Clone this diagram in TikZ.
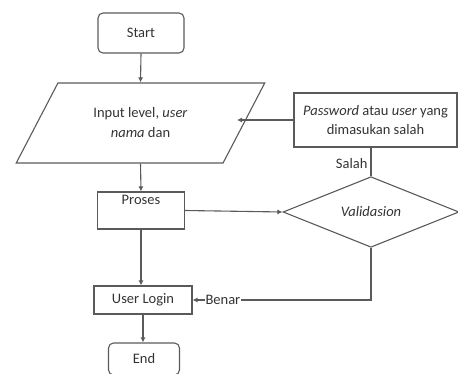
\documentclass[tikz,border=0pt]{standalone}
\usepackage{fontspec}
\setmainfont{Carlito}
\usetikzlibrary{shapes.geometric,arrows.meta,calc}
\definecolor{ln}{HTML}{5A5A5A}
\definecolor{tx}{HTML}{333333}
\begin{document}
\begin{tikzpicture}[x=1pt,y=-1pt,
  every node/.style={font=\fontsize{14.5}{17}\selectfont, text=tx},
  box/.style={draw=ln, line width=1.1pt, rectangle, inner sep=0pt, align=center},
  term/.style={box, rounded corners=5pt},
  arr/.style={draw=ln, line width=1.1pt, -{Latex[length=5pt,width=5pt]}},
  ln/.style={draw=ln, line width=1.1pt}]
\useasboundingbox (0,0) rectangle (458,374);
\node[term, minimum width=86pt, minimum height=40pt] (start) at (141,33) {Start};
\node[draw=ln, line width=1.1pt, trapezium, trapezium left angle=51.8, trapezium right angle=128.2,
      trapezium stretches=true, minimum width=249pt, minimum height=80pt, inner sep=0pt, align=center]
      (input) at (140.5,123) {Input level, \textit{user}\\[3pt] \textit{nama} dan};
\node[box, minimum width=87pt, minimum height=37pt] (proses) at (141,210.5) {Proses\\[4pt]};
\node[draw=ln, line width=1.1pt, diamond, minimum width=176pt, minimum height=69pt, inner sep=0pt]
      (valid) at (371,212) {\textit{Validasion}\\[4pt]};
\node[box, minimum width=163pt, minimum height=54pt] (pw) at (375.5,120)
      {\textit{Password} atau \textit{user} yang\\[2pt] dimasukan salah};
\node[box, minimum width=98pt, minimum height=28pt] (login) at (143,300) {User Login};
\node[term, minimum width=71pt, minimum height=32pt] (end) at (144,359) {End};
\coordinate (inR) at (237,120);

\draw[arr] (start.south) -- (input.north);
\draw[arr] (input.south) -- (proses.north);
\draw[arr] (proses.south) -- (proses.south |- login.north);
\draw[arr] (login.south) -- (login.south |- end.north);
\draw[arr] (proses.east) -- (valid.west);
\draw[ln] (valid.north) -- node[left, pos=0.45, inner sep=3pt] {Salah} (valid.north |- pw.south);
\draw[arr] (pw.west) -- (inR);
\draw[arr] (valid.south) |- node[pos=0.915, fill=white, inner sep=1pt] {Benar} (login.east);
\end{tikzpicture}
\end{document}
